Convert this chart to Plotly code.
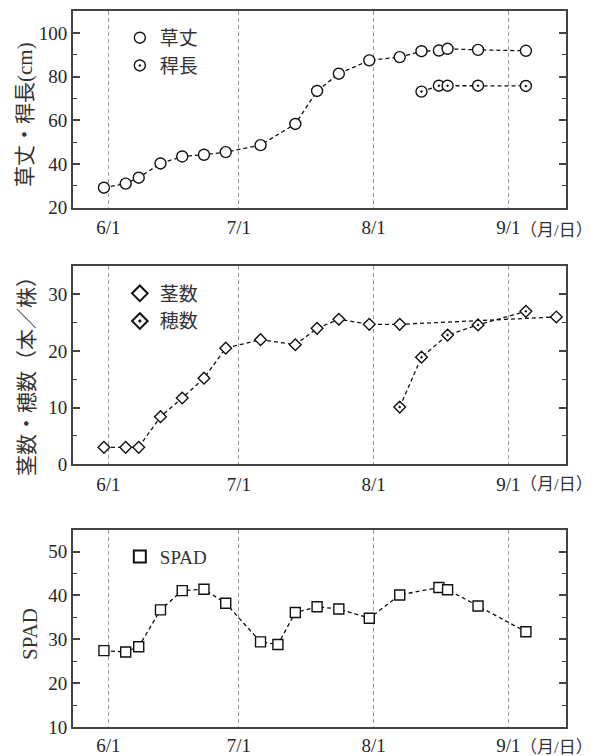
import plotly.graph_objects as go

# ---------------- data ----------------
height_dates = ["2023-05-31", "2023-06-05", "2023-06-08", "2023-06-13", "2023-06-18", "2023-06-23",
                "2023-06-28", "2023-07-06", "2023-07-14", "2023-07-19", "2023-07-24", "2023-07-31",
                "2023-08-07", "2023-08-12", "2023-08-16", "2023-08-18", "2023-08-25", "2023-09-05"]
plant_height = [29.1, 31.0, 33.7, 40.2, 43.4, 44.2, 45.4, 48.6, 58.3, 73.4, 81.3, 87.4,
                88.9, 91.6, 91.9, 92.7, 92.2, 91.8]

culm_dates = ["2023-08-12", "2023-08-16", "2023-08-18", "2023-08-25", "2023-09-05"]
culm_length = [73.1, 75.8, 75.8, 75.8, 75.7]

stem_dates = ["2023-05-31", "2023-06-05", "2023-06-08", "2023-06-13", "2023-06-18", "2023-06-23",
              "2023-06-28", "2023-07-06", "2023-07-14", "2023-07-19", "2023-07-24", "2023-07-31",
              "2023-08-07", "2023-09-12"]
stem_count = [3.0, 3.0, 3.0, 8.4, 11.7, 15.2, 20.5, 22.0, 21.1, 24.0, 25.6, 24.7, 24.7, 26.0]

ear_dates = ["2023-08-07", "2023-08-12", "2023-08-18", "2023-08-25", "2023-09-05"]
ear_count = [10.1, 18.9, 22.8, 24.6, 27.0]

spad_dates = ["2023-05-31", "2023-06-05", "2023-06-08", "2023-06-13", "2023-06-18", "2023-06-23",
              "2023-06-28", "2023-07-06", "2023-07-10", "2023-07-14", "2023-07-19", "2023-07-24",
              "2023-07-31", "2023-08-07", "2023-08-16", "2023-08-18", "2023-08-25", "2023-09-05"]
spad = [27.4, 27.1, 28.3, 36.7, 41.1, 41.4, 38.2, 29.4, 28.8, 36.1, 37.4, 36.9,
        34.8, 40.1, 41.8, 41.3, 37.6, 31.7]

month_ticks = ["2023-06-01", "2023-07-01", "2023-08-01", "2023-09-01"]
month_labels = ["6/1", "7/1", "8/1", "9/1"]

y_titles = ["草丈・稈長(cm)", "茎数・穂数（本／株）", "SPAD"]
date_unit = "（月/日）"

# ---------------- style ----------------
FONT = "Liberation Serif, Noto Sans CJK JP, serif"
TXT = "#262626"
AX = "#444444"
LINE = dict(color="#111111", width=1.3, dash="4px,3px")
MLINE = dict(color="#111111", width=1.4)

fig = go.Figure()


def add_series(x, y, symbol, size, name, xa, ya, legend):
    fig.add_trace(go.Scatter(x=x, y=y, mode="lines", line=LINE, showlegend=False,
                             xaxis=xa, yaxis=ya, hoverinfo="skip"))
    fig.add_trace(go.Scatter(x=x, y=y, mode="markers", name=name,
                             marker=dict(symbol=symbol, size=size, color="white", line=MLINE),
                             xaxis=xa, yaxis=ya, legend=legend))


add_series(height_dates, plant_height, "circle", 11, "草丈", "x", "y", "legend")
add_series(culm_dates, culm_length, "circle-dot", 11, "稈長", "x", "y", "legend")
add_series(stem_dates, stem_count, "diamond", 9, "茎数", "x2", "y2", "legend2")
add_series(ear_dates, ear_count, "diamond-dot", 9, "穂数", "x2", "y2", "legend2")
add_series(spad_dates, spad, "square", 10, "SPAD", "x3", "y3", "legend3")

xrange = ["2023-05-23 21:20", "2023-09-14 05:20"]
domains = [[0.7254, 1.0], [0.3669, 0.6439], [0.0, 0.2757]]


def xaxis(anchor, standoff):
    return dict(
        type="date", range=xrange, anchor=anchor, domain=[0, 1],
        tickvals=month_ticks, ticktext=month_labels, ticks="",
        showgrid=True, gridcolor="#9a9a9a", griddash="4px,3px", gridwidth=1,
        showline=True, linecolor=AX, linewidth=2, mirror=True,
        tickfont=dict(family=FONT, size=19, color=TXT), ticklabelstandoff=standoff,
        zeroline=False, automargin=False,
    )


def yaxis(anchor, dom, rng, dtick, minor):
    return dict(
        domain=dom, anchor=anchor, range=rng, dtick=dtick, tick0=rng[0],
        ticks="inside", ticklen=7, tickwidth=1.5, tickcolor=AX,
        minor=dict(ticks="inside", ticklen=4, dtick=minor, tick0=rng[0], tickcolor=AX, tickwidth=1.2),
        showline=True, linecolor=AX, linewidth=2, mirror="ticks",
        showgrid=False, zeroline=False, automargin=False,
        tickfont=dict(family=FONT, size=19, color=TXT),
    )


legend_common = dict(font=dict(family=FONT, size=19, color="#333333"), bgcolor="rgba(0,0,0,0)",
                     xanchor="left", yanchor="top", tracegroupgap=0, itemwidth=30)

fig.update_layout(
    width=601, height=756,
    margin=dict(l=73, r=35, t=10.7, b=29.3),
    paper_bgcolor="white", plot_bgcolor="white",
    xaxis=xaxis("y", 2),
    xaxis2=xaxis("y2", 2),
    xaxis3=xaxis("y3", 0),
    yaxis=yaxis("x", domains[0], [20, 110], 20, 10),
    yaxis2=yaxis("x2", domains[1], [0, 35], 10, 5),
    yaxis3=yaxis("x3", domains[2], [10, 55], 10, 5),
    legend=dict(x=0.095, y=0.989, **legend_common),
    legend2=dict(x=0.095, y=0.632, itemsizing="constant", **legend_common),
    legend3=dict(x=0.095, y=0.2645, itemsizing="constant", **legend_common),
    showlegend=True,
)

# y-axis titles (rotated)
for title, xp, yp in zip(y_titles, [-0.0974, -0.0919, -0.086], [0.8561, 0.4968, 0.1295]):
    fig.add_annotation(text=title, xref="paper", yref="paper", x=xp, y=yp, textangle=-90,
                       xanchor="center", yanchor="middle", showarrow=False,
                       font=dict(family=FONT, size=21, color="#333333"))

# date unit next to the last tick label
for yp in [0.6937, 0.339, -0.028]:
    fig.add_annotation(text=date_unit, xref="paper", yref="paper", x=0.903, y=yp,
                       xanchor="left", yanchor="middle", showarrow=False,
                       font=dict(family=FONT, size=17, color="#333333"))

fig.write_html("out.html", config={"displayModeBar": False},
               post_script="document.body.style.margin='0';")
